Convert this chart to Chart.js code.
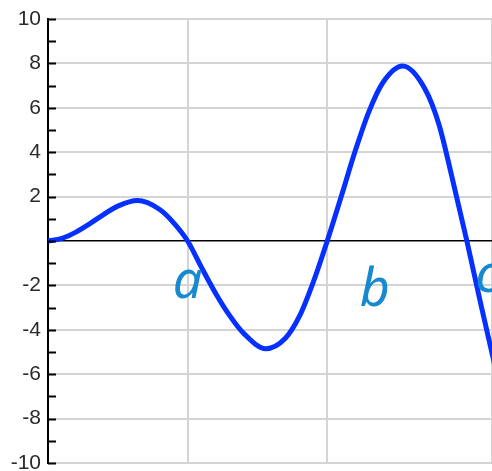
<!DOCTYPE html>
<html>
<head>
<meta charset="utf-8">
<script src="https://cdn.jsdelivr.net/npm/chart.js@4"></script>
<style>
  html, body { margin: 0; padding: 0; background: #fff; }
  #wrap { width: 492px; height: 471px; }
</style>
</head>
<body>
<div id="wrap"><canvas id="curveChart" width="492" height="471"></canvas></div>
<script>
// values (x in grid units, y in axis units)
const xValues = [0, 0.1, 0.2, 0.3, 0.4, 0.5, 0.64, 0.8, 0.9,
                 1.0, 1.1, 1.2, 1.3, 1.4, 1.56, 1.7, 1.8, 1.9,
                 2.0, 2.1, 2.2, 2.3, 2.4, 2.54, 2.7, 2.8, 2.9,
                 3.0, 3.1, 3.2];
const yValues = [0, 0.12, 0.4, 0.78, 1.2, 1.57, 1.82, 1.42, 0.82,
                 0, -1.2, -2.35, -3.35, -4.15, -4.85, -4.38, -3.4, -1.85,
                 0, 2.0, 4.05, 5.85, 7.15, 7.88, 6.85, 5.25, 2.7,
                 0, -2.85, -5.6];
const yTickLabels = [10, 8, 6, 4, 2, -2, -4, -6, -8, -10];
const noteLabels = ['a', 'b', 'c'];
const noteX = [1.0, 2.34, 3.06];
const noteY = [-2.55, -2.95, -2.3];

const points = xValues.map((x, i) => ({ x, y: yValues[i] }));

// short black ticks inside the plot on the y axis
const innerTicks = {
  id: 'innerTicks',
  afterDraw(chart) {
    const { ctx, scales: { y } } = chart;
    ctx.save();
    ctx.strokeStyle = '#000';
    ctx.lineWidth = 2;
    for (let v = -10; v <= 10; v++) {
      const py = Math.round(y.getPixelForValue(v)) + 0.5;
      ctx.beginPath();
      ctx.moveTo(y.right, py);
      ctx.lineTo(y.right + 8, py);
      ctx.stroke();
    }
    ctx.restore();
  }
};

// hand written letters
const notes = {
  id: 'notes',
  afterDatasetsDraw(chart) {
    const { ctx, scales: { x, y } } = chart;
    ctx.save();
    ctx.fillStyle = '#1689cf';
    ctx.font = 'italic 400 52px "Noto Sans"';
    noteLabels.forEach((t, i) => {
      ctx.textAlign = i === 2 ? 'left' : 'center';
      ctx.fillText(t, x.getPixelForValue(noteX[i]), y.getPixelForValue(noteY[i]));
    });
    ctx.restore();
  }
};

new Chart(document.getElementById('curveChart'), {
  type: 'scatter',
  data: {
    datasets: [{
      data: points,
      showLine: true,
      borderColor: '#0530ff',
      borderWidth: 5,
      pointRadius: 0,
      cubicInterpolationMode: 'monotone'
    }]
  },
  options: {
    responsive: false,
    animation: false,
    layout: { padding: { top: 19, right: 0, bottom: 8, left: 0 } },
    plugins: { legend: { display: false }, tooltip: { enabled: false } },
    scales: {
      x: {
        type: 'linear',
        min: 0,
        max: 3.18,
        afterFit(scale) { scale.height = 0; },
        ticks: { display: false, stepSize: 1 },
        border: { display: false },
        grid: { color: '#d4d4d4', lineWidth: 2, drawTicks: false }
      },
      y: {
        min: -10,
        max: 10,
        afterFit(scale) { scale.width = 48; scale.paddingTop = 0; scale.paddingBottom = 0; },
        ticks: {
          stepSize: 1,
          padding: 7,
          color: '#2a2a2a',
          font: { family: '"Liberation Sans", Arial, sans-serif', size: 21 },
          callback: v => yTickLabels.includes(v) ? String(v) : ''
        },
        border: { display: true, color: '#000', width: 2 },
        grid: {
          drawTicks: false,
          color: c => c.tick && c.tick.value === 0 ? '#000' : '#d4d4d4',
          lineWidth: c => c.tick && c.tick.value === 0 ? 1.5 : 2
        }
      }
    }
  },
  plugins: [innerTicks, notes]
});
</script>
</body>
</html>
